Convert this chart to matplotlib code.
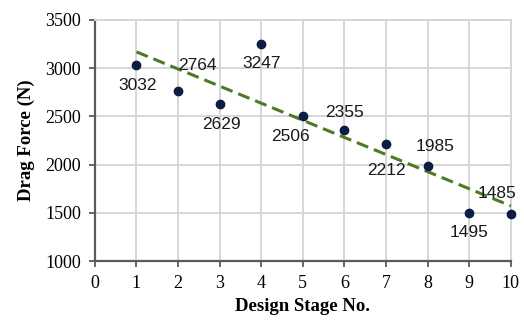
import numpy as np
import matplotlib
matplotlib.use("Agg")
import matplotlib.pyplot as plt

# data
stages = [1, 2, 3, 4, 5, 6, 7, 8, 9, 10]
drag_force = [3032, 2764, 2629, 3247, 2506, 2355, 2212, 1985, 1495, 1485]

# label offsets (points) for each data label
label_offsets = [(1, -15), (14, 18), (1, -15), (0, -14), (-9, -15),
                 (0, 13), (0, -19), (5, 14), (0, -14), (-10, 15)]

fig = plt.figure(figsize=(5.24, 3.20), dpi=100)
ax = fig.add_axes([0.181, 0.184, 0.794, 0.7535])

ax.set_xlim(0, 10)
ax.set_ylim(1000, 3500)
ax.set_xticks(range(0, 11))
ax.set_yticks(range(1000, 3501, 500))
ax.grid(True, color="#d6d6d6", linewidth=1.4)
ax.set_axisbelow(True)

for s in ["top", "right"]:
    ax.spines[s].set_color("#d6d6d6")
    ax.spines[s].set_linewidth(1.4)
for s in ["left", "bottom"]:
    ax.spines[s].set_color("#5a5a5a")
    ax.spines[s].set_linewidth(1.6)

ax.tick_params(direction="out", length=4, width=1.3, color="#5a5a5a",
               labelsize=13, pad=6)
for lab in ax.get_xticklabels() + ax.get_yticklabels():
    lab.set_family("Liberation Serif")

# linear trendline
coef = np.polyfit(stages, drag_force, 1)
xs = np.array([stages[0], stages[-1]])
ax.plot(xs, np.polyval(coef, xs), linestyle=(0, (4, 2)), color="#4d7a22",
        linewidth=2.2, zorder=3)

ax.plot(stages, drag_force, "o", color="#0d1c42", markersize=6,
        zorder=4, clip_on=False)

for x, y, off in zip(stages, drag_force, label_offsets):
    ax.annotate(str(y), (x, y), xytext=off, textcoords="offset points",
                ha="center", va="center", fontsize=12.5,
                family="Liberation Sans", color="#1a1a1a", zorder=5)

ax.set_xlabel("Design Stage No.", family="Liberation Serif", fontweight="bold",
              fontsize=13.5, labelpad=4)
ax.set_ylabel("Drag Force (N)", family="Liberation Serif", fontweight="bold",
              fontsize=13.5, labelpad=7)

fig.savefig("out.png", dpi=100)
